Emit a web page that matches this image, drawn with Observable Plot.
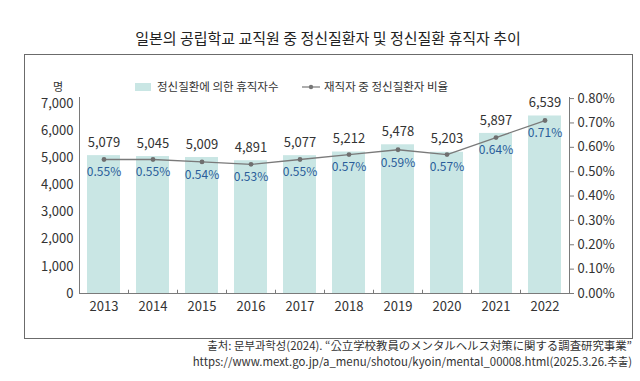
<!DOCTYPE html>
<html><head><meta charset="utf-8">
<script src="https://cdn.jsdelivr.net/npm/d3@7"></script>
<script src="https://cdn.jsdelivr.net/npm/@observablehq/plot@0.6"></script>
<style>
body{margin:0;width:640px;height:381px;position:relative;background:#fff;font-family:"Noto Sans CJK KR","Noto Sans",sans-serif;color:#333;overflow:hidden}
#title{position:absolute;left:24px;width:608px;top:27px;text-align:center;font-size:15px;color:#222;line-height:22px;white-space:nowrap}
#box{position:absolute;left:24px;top:54px;width:607px;height:283px;border:1px solid #6b6b6b}
#chart{position:absolute;left:0;top:0}
.lg{position:absolute;font-size:11.5px;line-height:12px;top:80px;white-space:nowrap;color:#333}
#caption{position:absolute;right:8px;top:337px;text-align:right;font-size:11.4px;line-height:16px;color:#333;white-space:nowrap}
</style></head>
<body>
<div id="title"></div>
<div id="box"></div>
<div id="chart"></div>
<div class="lg" id="unit" style="left:53px;font-size:11px;line-height:11px;top:81px"></div>
<div class="lg" id="lg1" style="left:135px"><span style="display:inline-block;width:16px;height:8px;background:#c9e6e4;margin-right:6px;vertical-align:0px"></span><span id="lg1t"></span></div>
<div class="lg" id="lg2" style="left:302px"><svg width="18" height="8" style="margin-right:4px;vertical-align:0px"><line x1="0" y1="4" x2="18" y2="4" stroke="#777" stroke-width="1.2"/><circle cx="9" cy="4" r="2.2" fill="#777"/></svg><span id="lg2t"></span></div>
<div id="caption"></div>
<script>
const titleText = "일본의 공립학교 교직원 중 정신질환자 및 정신질환 휴직자 추이";
const unitText = "명";
const seriesBar = "정신질환에 의한 휴직자수";
const seriesLine = "재직자 중 정신질환자 비율";
const captionLines = ["출처: 문부과학성(2024). “公立学校教員のメンタルヘルス対策に関する調査研究事業”", "https://www.mext.go.jp/a_menu/shotou/kyoin/mental_00008.html(2025.3.26.추출)"];
const years = ["2013","2014","2015","2016","2017","2018","2019","2020","2021","2022"];
const leaves = [5079,5045,5009,4891,5077,5212,5478,5203,5897,6539];
const ratios = [0.55,0.55,0.54,0.53,0.55,0.57,0.59,0.57,0.64,0.71];
const leftTicks = [0,1000,2000,3000,4000,5000,6000,7000];
const rightTicks = [0,0.1,0.2,0.3,0.4,0.5,0.6,0.7,0.8];

document.getElementById("title").textContent = titleText;
document.getElementById("unit").textContent = unitText;
document.getElementById("lg1t").textContent = seriesBar;
document.getElementById("lg2t").textContent = seriesLine;
document.getElementById("caption").innerHTML = captionLines.map(s => s.replace(/&/g,"&amp;").replace(/</g,"&lt;")).join("<br>");

const K = 8975; // count units per 1% on the shared y scale (right axis)
const data = years.map((y, i) => ({year: y, leave: leaves[i], ratio: ratios[i]}));
const fmt = d3.format(",");
const axisColor = "#7a7a7a";

const chart = Plot.plot({
  width: 640, height: 381,
  marginTop: 97, marginBottom: 88, marginLeft: 79, marginRight: 71,
  x: {type: "band", domain: years, paddingInner: 0.33, paddingOuter: 0.165, label: null},
  y: {domain: [0, 7220], label: null},
  style: {fontFamily: '"Noto Sans CJK KR","Noto Sans",sans-serif', fontSize: "13px", color: "#333", background: "transparent", overflow: "visible"},
  marks: [
    Plot.barY(data, {x: "year", y: "leave", fill: "#c9e6e4"}),
    Plot.axisX({tickSize: 0, tickPadding: 8, fontSize: 13}),
    Plot.axisY(leftTicks, {anchor: "left", tickSize: 0, tickPadding: 6, tickFormat: fmt, fontSize: 13}),
    Plot.axisY(rightTicks.map(p => p * K), {anchor: "right", tickSize: 4, tickPadding: 4, stroke: axisColor, tickFormat: d => (d / K).toFixed(2) + "%", fontSize: 13}),
    Plot.ruleY([0], {stroke: axisColor}),
    Plot.frame({anchor: "left", stroke: axisColor}),
    Plot.frame({anchor: "right", stroke: axisColor}),
    Plot.ruleX(years.slice(0, -1), {x: d => d, dx: 24.5, y1: 0, y2: 120, stroke: axisColor}),
    Plot.line(data, {x: "year", y: d => d.ratio * K, stroke: "#7a7a7a", strokeWidth: 1.3}),
    Plot.dot(data, {x: "year", y: d => d.ratio * K, r: 2.4, fill: "#6f6f6f"}),
    Plot.text(data, {x: "year", y: "leave", text: d => fmt(d.leave), dy: -13, fill: "#333", fontSize: 13}),
    Plot.text(data, {x: "year", y: d => d.ratio * K, text: d => d.ratio.toFixed(2) + "%", dy: 13, fill: "#2a5d9a", fontSize: 12})
  ]
});
document.getElementById("chart").appendChild(chart);
</script>
</body></html>
